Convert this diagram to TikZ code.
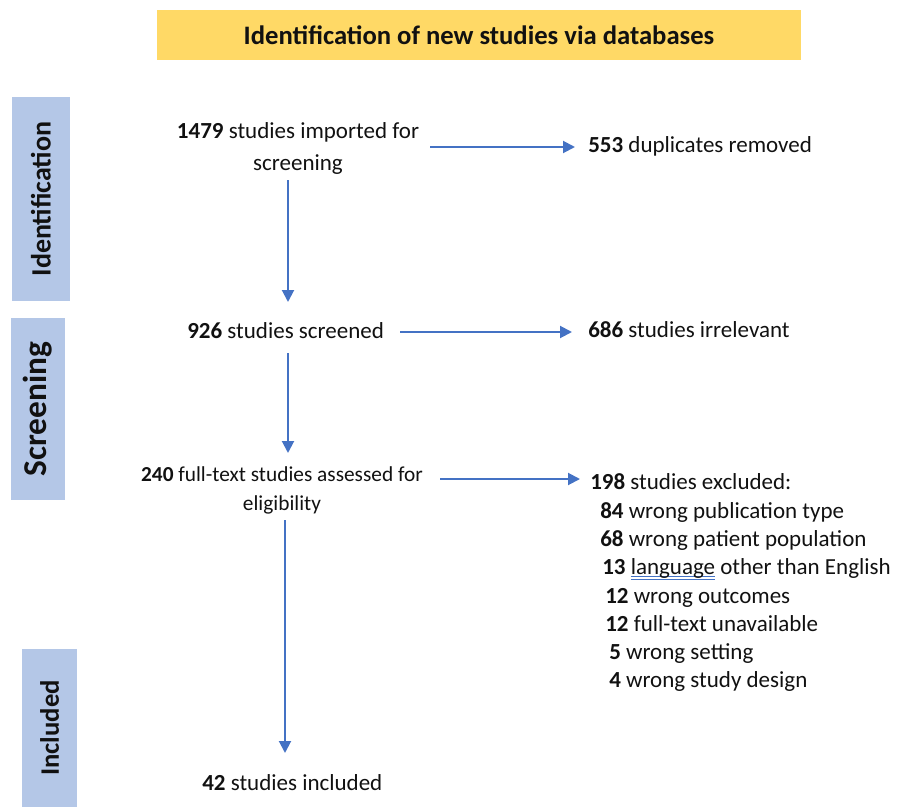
\documentclass[tikz,border=0pt]{standalone}
\usepackage{fontspec}
\setmainfont{Carlito}
\usetikzlibrary{arrows.meta}
\definecolor{flowblue}{HTML}{4472C4}
\definecolor{barblue}{HTML}{B4C7E7}
\definecolor{titleyel}{HTML}{FFD966}
\definecolor{inkblack}{HTML}{111111}
\newcommand{\spellmark}[1]{\setbox0\hbox{#1}\rlap{\textcolor{flowblue}{\rule[-2.4pt]{\wd0}{0.6pt}}}\rlap{\textcolor{flowblue}{\rule[-4.6pt]{\wd0}{0.6pt}}}\box0\relax}
\begin{document}
\begin{tikzpicture}[x=0.75pt,y=-0.75pt,
  txt/.style={inner sep=0pt, text=inkblack, font=\fontsize{17.25}{24}\selectfont},
  smalltxt/.style={inner sep=0pt, text=inkblack, font=\fontsize{16}{21.75}\selectfont},
  arr/.style={draw=flowblue, line width=1.5pt, -{Triangle[length=9pt,width=9pt]}},
  bar/.style={fill=barblue, draw=none, inner sep=0pt, rotate=90, text=inkblack},
  titlebox/.style={fill=titleyel, draw=none, inner sep=0pt, text=inkblack, font=\bfseries\fontsize{20}{20}\selectfont}]
\useasboundingbox (0,0) rectangle (904,807);
% title
\node[titlebox, minimum width=483pt, minimum height=37.5pt] (title) at (479,35) {Identification of new studies via databases};
% phase bars
\node[bar, minimum width=153pt, minimum height=43.5pt, font=\bfseries\fontsize{21}{21}\selectfont] (b1) at (41,199) {Identification};
\node[bar, minimum width=136.5pt, minimum height=40.5pt, font=\bfseries\fontsize{25}{25}\selectfont] (b2) at (38,409) {Screening};
\node[bar, minimum width=118.5pt, minimum height=41.25pt, font=\bfseries\fontsize{20}{20}\selectfont] (b3) at (49.5,728) {Included};
% main nodes
\node[txt, align=center, anchor=base] (n1) at (298,170) {\textbf{1479} studies imported for\\screening};
\node[txt, anchor=base west] (n2) at (588,152) {\textbf{553} duplicates removed};
\node[txt, anchor=base west] (n3) at (187,338) {\textbf{926} studies screened};
\node[txt, anchor=base west] (n4) at (588,337) {\textbf{686} studies irrelevant};
\node[smalltxt, align=center, anchor=base] (n5) at (282,510) {\textbf{240} full-text studies assessed for\\eligibility};
\node[txt, anchor=base west] (n6) at (590,489) {\textbf{198} studies excluded:};
\node[txt, anchor=base west] (e1) at (600,518) {\textbf{84} wrong publication type};
\node[txt, anchor=base west] (e2) at (600,546) {\textbf{68} wrong patient population};
\node[txt, anchor=base west] (e3) at (602,574) {\textbf{13} \spellmark{language} other than English};
\node[txt, anchor=base west] (e4) at (605,603) {\textbf{12} wrong outcomes};
\node[txt, anchor=base west] (e5) at (605,631) {\textbf{12} full-text unavailable};
\node[txt, anchor=base west] (e6) at (609,659) {\textbf{5} wrong setting};
\node[txt, anchor=base west] (e7) at (609,687) {\textbf{4} wrong study design};
\node[txt, anchor=base west] (n7) at (202,790) {\textbf{42} studies included};
% connectors
\coordinate (a1s) at (430,147);
\draw[arr] (a1s) -- ([xshift=-9.75pt]n2.west |- a1s);
\coordinate (v1s) at (288,180);
\coordinate (v1e) at (288,302);
\draw[arr] (v1s) -- (v1e);
\coordinate (a2s) at (400,332);
\draw[arr] (a2s) -- ([xshift=-12pt]n4.west |- a2s);
\coordinate (v2s) at (288,353);
\coordinate (v2e) at (288,453);
\draw[arr] (v2s) -- (v2e);
\coordinate (a3s) at (440,479);
\draw[arr] (a3s) -- ([xshift=-7.5pt]n6.west |- a3s);
\coordinate (v3s) at (285,520);
\coordinate (v3e) at (285,753);
\draw[arr] (v3s) -- (v3e);
\end{tikzpicture}
\end{document}
